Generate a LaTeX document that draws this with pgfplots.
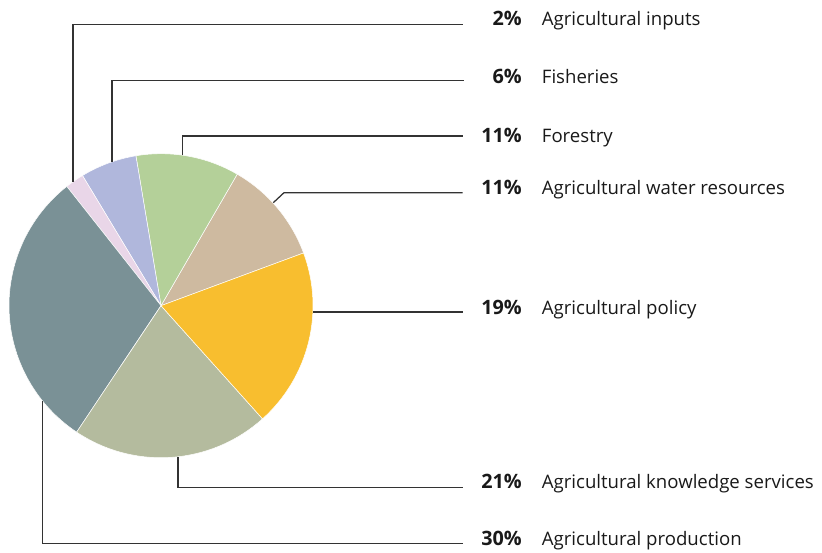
\documentclass[border=0pt]{standalone}
\usepackage{pgfplots}
\pgfplotsset{compat=1.18}
\usepackage{fontspec}
\setmainfont{Open Sans}
\definecolor{cInputs}{HTML}{E9D6E8}
\definecolor{cFish}{HTML}{B0B7DC}
\definecolor{cForest}{HTML}{B4D099}
\definecolor{cWater}{HTML}{CEBAA0}
\definecolor{cPolicy}{HTML}{F8BE2F}
\definecolor{cKnow}{HTML}{B4BB9E}
\definecolor{cProd}{HTML}{7A9196}
\definecolor{cLine}{HTML}{333333}
\newcommand{\cx}{161}
\newcommand{\cy}{247.3}
\newcommand{\rr}{152}
\newcommand{\startang}{20.3}
% #1 colour, #2 cumulative percent before slice, #3 slice percent
\newcommand{\slice}[3]{%
  \fill[#1,draw=white,line width=0.5pt]
    (axis cs:\cx,\cy) --
    (axis cs:{\cx+\rr*cos(\startang+3.6*#2)},{\cy+\rr*sin(\startang+3.6*#2)})
    arc[start angle={\startang+3.6*#2}, end angle={\startang+3.6*(#2+#3)}, radius=\rr pt]
    -- cycle;}
\newcommand{\lab}[3]{%
  \node[anchor=base east,inner sep=0pt,font=\fontsize{19.8}{22}\selectfont\bfseries,text=black!90] at (axis cs:522,#1) {#2\%};
  \node[anchor=base west,inner sep=0pt,text=black!90] at (axis cs:541.7,#1) {#3};}
\tikzset{leader/.style={cLine, line width=1.25pt, solid, mark=none}}
\begin{document}
\begin{tikzpicture}
\begin{axis}[
  x=1pt, y=1pt,
  xmin=0, xmax=822, ymin=0, ymax=553,
  hide axis, clip=false,
  scale only axis,
]
\path (axis cs:0,0) (axis cs:822,553);
% slices: water 11, forestry 11, fisheries 6, inputs 2, production 30, knowledge 21, policy 19
\slice{cWater}{0}{11}
\slice{cForest}{11}{11}
\slice{cFish}{22}{6}
\slice{cInputs}{28}{2}
\slice{cProd}{30}{30}
\slice{cKnow}{60}{21}
\slice{cPolicy}{81}{19}
% leader lines
\addplot[leader] coordinates {(73,371) (73,528.7) (462.5,528.7)};
\addplot[leader] coordinates {(112,391.2) (112,472.3) (463.5,472.3)};
\addplot[leader] coordinates {(182.7,397.7) (182.7,417) (462.5,417)};
\addplot[leader] coordinates {(273.3,350.3) (284,360.3) (462.5,360.3)};
\addplot[leader] coordinates {(313,241) (462.5,241)};
\addplot[leader] coordinates {(178,96.3) (178,65.3) (462.5,65.3)};
\addplot[leader] coordinates {(42.7,151.9) (42.7,9.3) (462.5,9.3)};
% labels
\fontsize{18.6}{22}\selectfont
\lab{527}{2}{Agricultural inputs}
\lab{469.5}{6}{Fisheries}
\lab{410.3}{11}{Forestry}
\lab{358}{11}{Agricultural water resources}
\lab{238}{19}{Agricultural policy}
\lab{64.7}{21}{Agricultural knowledge services}
\lab{7}{30}{Agricultural production}
\end{axis}
\end{tikzpicture}
\end{document}
